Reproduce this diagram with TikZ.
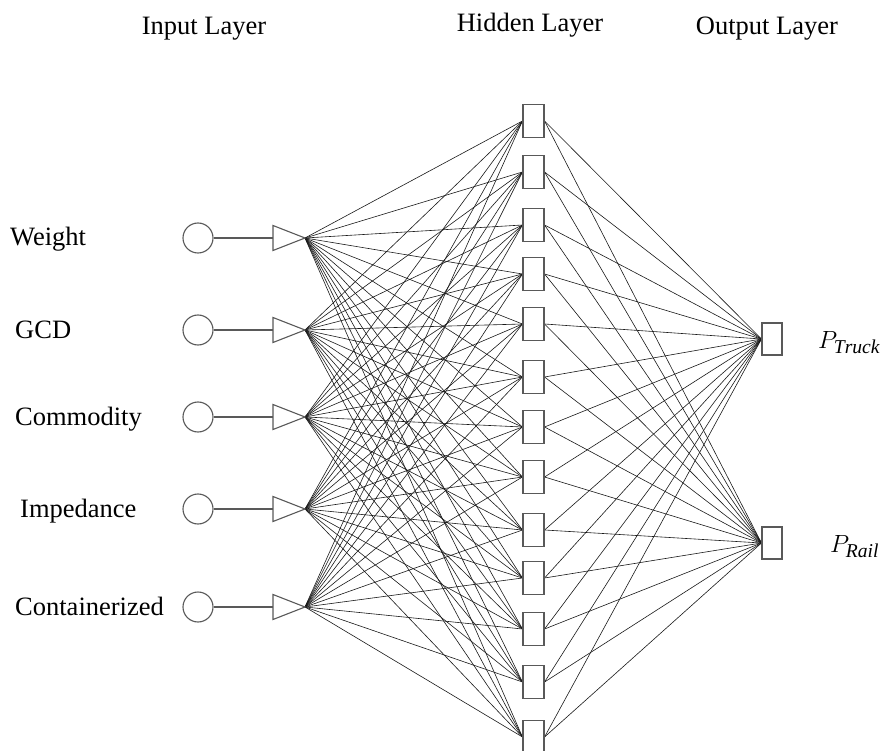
\documentclass[tikz,border=0pt]{standalone}
\usepackage{fontspec}
\setmainfont{Liberation Serif}
\pgfdeclarelayer{background}
\pgfsetlayers{background,main}
\begin{document}
\begin{tikzpicture}[x=1pt,y=-1pt,
  shapeline/.style={draw=black!65, line width=1.1pt, fill=white},
  inp/.style={shapeline, circle, minimum size=30pt, inner sep=0pt},
  hid/.style={shapeline, rectangle, minimum width=21pt, minimum height=33pt, inner sep=0pt},
  outn/.style={shapeline, rectangle, minimum width=20pt, minimum height=32pt, inner sep=0pt},
  link/.style={draw=black!90, line width=0.6pt},
  wire/.style={draw=black!65, line width=1.1pt},
  lbl/.style={font=\fontsize{26.5}{30}\selectfont, inner sep=0pt},
  plbl/.style={font=\fontsize{28}{32}\selectfont, inner sep=0pt}]
\useasboundingbox (0,0) rectangle (889,751);
% headers
\node[lbl, anchor=base] (hin) at (204,35) {Input Layer};
\node[lbl, anchor=base] (hhid) at (530,32) {Hidden Layer};
\node[lbl, anchor=base] (hout) at (767,35) {Output Layer};
% input rows
\foreach \i/\y/\xl/\t in {1/238/10/Weight, 2/330/15/GCD, 3/417/15/Commodity, 4/509/20/Impedance, 5/607/15/Containerized} {
  \node[lbl, anchor=base west] (lab\i) at (\xl,\y+8) {\t};
  \node[inp] (c\i) at (198,\y) {};
  \coordinate (tl\i) at (273,\y);
  \coordinate (tip\i) at (305,\y);
  \draw[wire] (c\i.east) -- (tl\i);
  \draw[wire, fill=white, line join=miter] (273,\y-12.5) -- (tip\i) -- (273,\y+12.5) -- cycle;
}
% hidden layer
\foreach \j/\y in {1/121, 2/172, 3/225, 4/274, 5/324, 6/377, 7/427, 8/477, 9/530, 10/578, 11/629, 12/682, 13/737} {
  \node[hid] (h\j) at (533.5,\y) {};
}
% output layer
\node[outn] (o1) at (772,339) {};
\node[outn] (o2) at (772,543) {};
% links
\begin{pgfonlayer}{background}
\foreach \i in {1,...,5} {
  \foreach \j in {1,...,13} {
    \draw[link] (tip\i) -- (h\j.west);
  }
}
\foreach \j in {1,...,13} {
  \draw[link] (h\j.east) -- (o1.west);
  \draw[link] (h\j.east) -- (o2.west);
}
\end{pgfonlayer}
% output labels
\node[plbl, anchor=west] (pt) at (818,343) {$P_{\mathit{Truck}}$};
\node[plbl, anchor=west] (pr) at (830,547) {$P_{\mathit{Rail}}$};
\end{tikzpicture}
\end{document}
